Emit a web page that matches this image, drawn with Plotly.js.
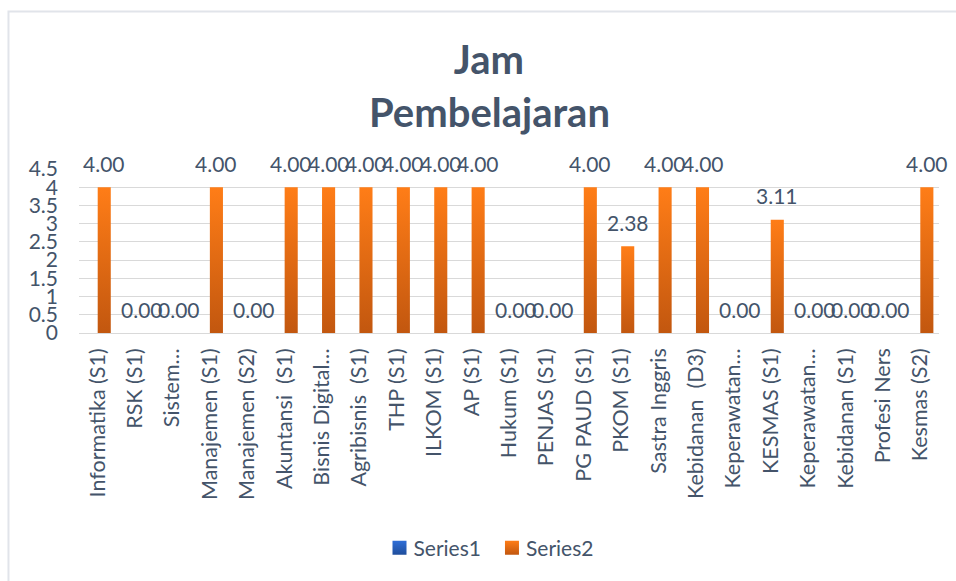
<!DOCTYPE html>
<html>
<head>
<meta charset="utf-8">
<script src="https://cdn.plot.ly/plotly-3.0.1.min.js"></script>
<style>
  html, body { margin: 0; padding: 0; background: #ffffff; }
  #chart { width: 956px; height: 581px; }
</style>
</head>
<body>
<div id="chart"></div>
<script>
// ---- data ----
const categories = [
  "Informatika (S1)", "RSK (S1)", "Sistem Informasi (S1)", "Manajemen (S1)", "Manajemen (S2)",
  "Akuntansi  (S1)", "Bisnis Digital (S1)", "Agribisnis  (S1)", "THP (S1)", "ILKOM (S1)",
  "AP (S1)", "Hukum (S1)", "PENJAS (S1)", "PG PAUD (S1)", "PKOM (S1)",
  "Sastra Inggris", "Kebidanan  (D3)", "Keperawatan (D3)", "KESMAS (S1)", "Keperawatan (S1)",
  "Kebidanan (S1)", "Profesi Ners", "Kesmas (S2)"
];
const tickLabels = [
  "Informatika (S1)", "RSK (S1)", "Sistem…", "Manajemen (S1)", "Manajemen (S2)",
  "Akuntansi  (S1)", "Bisnis Digital…", "Agribisnis  (S1)", "THP (S1)", "ILKOM (S1)",
  "AP (S1)", "Hukum (S1)", "PENJAS (S1)", "PG PAUD (S1)", "PKOM (S1)",
  "Sastra Inggris", "Kebidanan  (D3)", "Keperawatan…", "KESMAS (S1)", "Keperawatan…",
  "Kebidanan (S1)", "Profesi Ners", "Kesmas (S2)"
];
const series1 = [null, null, null, null, null, null, null, null, null, null, null, null,
                 null, null, null, null, null, null, null, null, null, null, null];
const series2 = [4.00, 0.00, 0.00, 4.00, 0.00, 4.00, 4.00, 4.00, 4.00, 4.00, 4.00, 0.00,
                 0.00, 4.00, 2.38, 4.00, 4.00, 0.00, 3.11, 0.00, 0.00, 0.00, 4.00];
const yTicks = [0, 0.5, 1, 1.5, 2, 2.5, 3, 3.5, 4, 4.5];
const yTickLabels = ["0", "0.5", "1", "1.5", "2", "2.5", "3", "3.5", "4", "4.5"];
const titleLines = ["Jam", "Pembelajaran"];

// ---- styling ----
const FONT = "Lato, 'Open Sans', sans-serif";
const TXT = "#44546A";
const BARGAP = 0.3;

const traces = [
  { type: "bar", name: "Series1", x: categories, y: series1,
    marker: { color: "#2B62C6" }, hoverinfo: "skip" },
  { type: "bar", name: "Series2", x: categories, y: series2,
    marker: { color: "#E46C0A" }, hoverinfo: "skip" }
];

// data labels for Series2 (positioned over the second bar of each group)
const labelOffset = (1 - BARGAP) / 4;
const annotations = series2.map((v, i) => ({
  x: i + labelOffset, y: v, xref: "x", yref: "y",
  text: v.toFixed(2), showarrow: false,
  yanchor: "middle", xanchor: "center", yshift: 24,
  font: { family: FONT, size: 21, color: TXT }
}));
// second title line
annotations.push({
  text: titleLines[1], xref: "paper", yref: "paper",
  x: (489 - 79) / 860, y: 1 + (169 - 112) / 164, xanchor: "center", yanchor: "middle",
  showarrow: false,
  font: { family: FONT, size: 40, color: TXT, weight: "bold" }
});

const layout = {
  width: 956, height: 581,
  margin: { l: 79, r: 17, t: 169, b: 248 },
  paper_bgcolor: "#ffffff", plot_bgcolor: "#ffffff",
  title: {
    text: titleLines[0],
    xref: "container", yref: "container",
    x: 489 / 956, y: 1 - 60 / 581, xanchor: "center", yanchor: "middle",
    font: { family: FONT, size: 40, color: TXT, weight: "bold" }
  },
  barmode: "group", bargap: BARGAP, bargroupgap: 0,
  showlegend: true,
  legend: {
    orientation: "h", xref: "container", yref: "container",
    x: 486 / 956, y: 1 - 548 / 581, xanchor: "center", yanchor: "middle",
    font: { family: FONT, size: 21, color: TXT },
    traceorder: "normal"
  },
  xaxis: {
    type: "category", range: [-0.5, 22.5],
    tickvals: categories, ticktext: tickLabels, tickangle: -90,
    tickfont: { family: FONT, size: 21.5, color: TXT },
    ticks: "", showgrid: false, showline: false, zeroline: false,
    ticklabelstandoff: 10, fixedrange: true
  },
  yaxis: {
    range: [0, 4.5], tickvals: yTicks, ticktext: yTickLabels,
    tickfont: { family: FONT, size: 21, color: TXT },
    showgrid: true, gridcolor: "#D9D9D9", gridwidth: 1,
    zeroline: true, zerolinecolor: "#D9D9D9", zerolinewidth: 1,
    showline: false, ticks: "", ticklabelstandoff: 20, fixedrange: true
  },
  annotations: annotations,
  shapes: [{
    type: "path", xref: "paper", yref: "paper",
    path: "M -0.082 -1.6 L -0.082 1.960 L 1.05 1.960",
    line: { color: "#E1E4EA", width: 2 }
  }]
};

const gd = document.getElementById("chart");

function addGradients() {
  const svg = gd.querySelector("svg.main-svg");
  if (!svg) return;
  const ns = "http://www.w3.org/2000/svg";
  let defs = svg.querySelector("defs");
  if (!defs) { defs = document.createElementNS(ns, "defs"); svg.insertBefore(defs, svg.firstChild); }
  function grad(id, top, bottom) {
    if (svg.querySelector("#" + id)) return;
    const g = document.createElementNS(ns, "linearGradient");
    g.setAttribute("id", id);
    g.setAttribute("x1", "0"); g.setAttribute("y1", "0");
    g.setAttribute("x2", "0"); g.setAttribute("y2", "1");
    [[0, top], [1, bottom]].forEach(([o, c]) => {
      const s = document.createElementNS(ns, "stop");
      s.setAttribute("offset", o); s.setAttribute("stop-color", c);
      g.appendChild(s);
    });
    defs.appendChild(g);
  }
  grad("gOrange", "#FF7D17", "#C2570F");
  grad("gBlue", "#2E6ED8", "#1F4E9C");
  const barTraces = gd.querySelectorAll(".barlayer .trace");
  barTraces.forEach((t, i) => {
    t.querySelectorAll("path").forEach(p => {
      p.style.fill = i === 0 ? "url(#gBlue)" : "url(#gOrange)";
    });
  });
  const legendPts = gd.querySelectorAll(".legend .traces");
  legendPts.forEach((t, i) => {
    t.querySelectorAll(".legendpoints path").forEach(p => {
      p.style.fill = i === 0 ? "url(#gBlue)" : "url(#gOrange)";
      p.setAttribute("d", "M13,7H-1V-7H13Z");
    });
  });
}

Plotly.newPlot(gd, traces, layout, { displayModeBar: false, staticPlot: true }).then(() => {
  addGradients();
  gd.on && gd.on("plotly_afterplot", addGradients);
});
</script>
</body>
</html>
